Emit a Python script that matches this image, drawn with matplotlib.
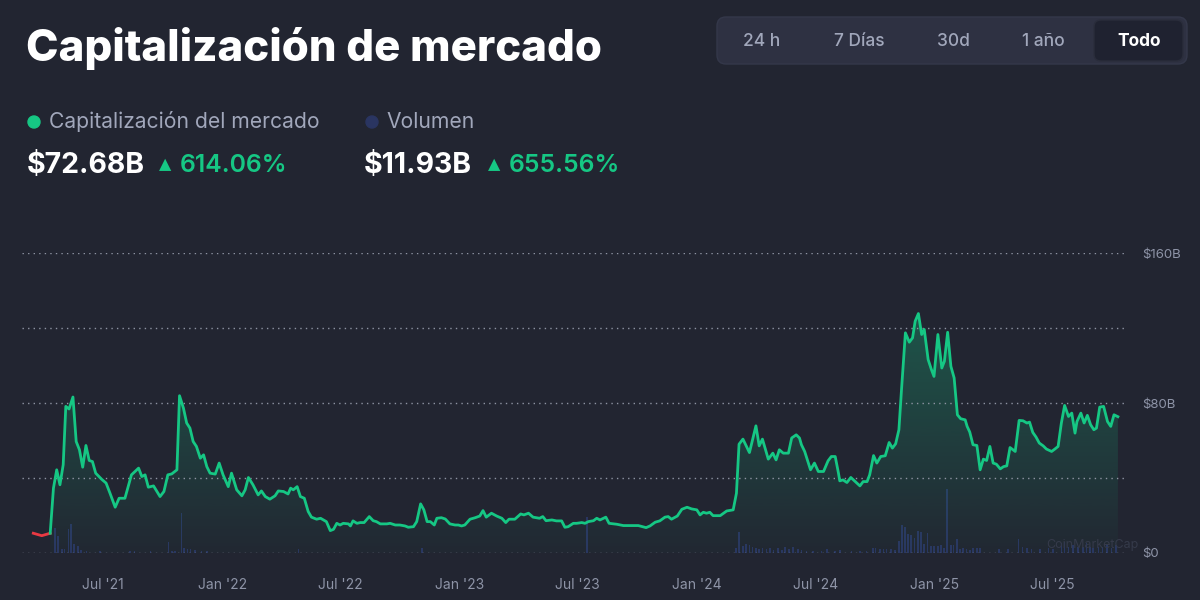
import matplotlib
matplotlib.use('Agg')

import matplotlib.dates as mdates
import matplotlib.pyplot as plt
import matplotlib.transforms as mtransforms
import numpy as np
import pandas as pd

from matplotlib.colors import to_rgb
from matplotlib.patches import Circle, FancyBboxPatch

BG = '#222531'
GREEN = '#16c784'
RED = '#ea3943'
GREY = '#a1a7bb'
NAVY = '#2a3561'

START = pd.Timestamp('2021-03-16')

# market cap, days since START / billions USD
MCAP_DAY = [
  0, 13, 26, 31, 36, 41, 46, 50, 55, 61,
  66, 71, 76, 81, 86, 91, 96, 105, 112, 118,
  126, 132, 141, 151, 162, 167, 172, 177, 185, 195,
  201, 207, 213, 221, 225, 231, 236, 241, 246, 251,
  257, 262, 267, 272, 280, 286, 292, 300, 305, 313,
  321, 326, 331, 338, 346, 351, 357, 364, 372, 377,
  385, 392, 396, 400, 406, 411, 417, 423, 428, 436,
  442, 451, 457, 462, 467, 472, 477, 485, 488, 492,
  498, 503, 509, 517, 523, 528, 534, 544, 549, 557,
  564, 572, 577, 585, 590, 596, 601, 606, 611, 617,
  621, 628, 634, 641, 649, 654, 659, 664, 672, 680,
  687, 692, 697, 705, 713, 721, 727, 732, 741, 750,
  755, 762, 769, 779, 784, 789, 798, 805, 813, 818,
  823, 831, 836, 844, 849, 854, 862, 867, 872, 881,
  886, 898, 908, 918, 931, 943, 949, 957, 964, 972,
  977, 982, 991, 998, 1006, 1013, 1021, 1026, 1031, 1036,
  1041, 1046, 1057, 1067, 1077, 1082, 1086, 1092, 1102, 1112,
  1117, 1122, 1131, 1138, 1143, 1148, 1154, 1162, 1167, 1174,
  1179, 1182, 1187, 1192, 1196, 1202, 1208, 1216, 1223, 1228,
  1234, 1239, 1241, 1246, 1252, 1258, 1263, 1272, 1277, 1283,
  1287, 1293, 1298, 1304, 1311, 1317, 1322, 1327, 1332, 1336,
  1342, 1348, 1353, 1357, 1362, 1367, 1371, 1377, 1382, 1386,
  1392, 1398, 1402, 1407, 1412, 1417, 1422, 1427, 1434, 1437,
  1441, 1446, 1452, 1457, 1462, 1467, 1472, 1477, 1482, 1488,
  1493, 1498, 1503, 1511, 1517, 1523, 1529, 1533, 1538, 1543,
  1548, 1554, 1559, 1567, 1572, 1577, 1582, 1587, 1593, 1598,
  1603, 1606, 1612, 1617, 1622, 1627, 1632, 1636, 1641, 1647,
  1653, 1658, 1663, 1669,
]
MCAP_B = [
  10.4, 9.1, 10.4, 34.5, 44.3, 36.3, 47.0, 78.2, 76.8, 83.2,
  59.4, 55.0, 45.7, 57.3, 49.3, 48.7, 42.5, 39.3, 37.2, 31.8,
  24.3, 29.1, 29.1, 41.6, 45.2, 40.7, 41.6, 35.0, 35.7, 30.0,
  32.7, 41.6, 42.1, 44.3, 83.9, 77.3, 69.3, 66.6, 59.4, 56.8,
  50.5, 52.3, 46.0, 42.5, 42.0, 47.9, 41.6, 35.3, 42.5, 33.6,
  30.4, 33.6, 40.2, 36.3, 30.9, 33.0, 30.0, 28.6, 30.4, 33.0,
  32.7, 31.4, 34.5, 33.6, 35.3, 30.0, 29.1, 22.0, 19.0, 17.9,
  18.4, 16.6, 11.8, 12.5, 15.7, 14.8, 15.7, 15.4, 14.3, 17.0,
  15.7, 16.1, 16.1, 19.3, 17.1, 16.6, 15.4, 15.4, 15.7, 14.8,
  14.8, 14.3, 13.6, 13.9, 16.6, 26.1, 22.9, 16.6, 16.6, 14.8,
  18.4, 18.7, 18.0, 15.4, 14.8, 14.8, 14.3, 14.8, 17.9, 18.7,
  19.6, 22.5, 19.0, 21.1, 19.6, 18.4, 16.1, 17.9, 17.9, 20.7,
  20.2, 21.1, 19.0, 18.4, 19.3, 17.1, 17.5, 17.0, 17.0, 13.6,
  13.9, 15.7, 15.7, 16.1, 15.7, 16.6, 17.1, 18.4, 17.5, 19.0,
  15.7, 15.2, 14.5, 14.5, 14.5, 13.4, 14.3, 16.3, 17.0, 19.0,
  19.3, 17.9, 19.6, 23.2, 24.3, 23.4, 22.9, 20.2, 21.6, 21.1,
  21.6, 19.8, 19.8, 22.3, 22.9, 31.8, 58.0, 60.7, 53.5, 67.8,
  57.1, 60.7, 50.0, 53.2, 49.6, 55.0, 53.2, 53.2, 61.3, 63.0,
  61.3, 57.7, 54.1, 48.7, 44.3, 47.9, 43.4, 43.4, 49.1, 51.4,
  51.4, 42.5, 38.4, 38.9, 37.5, 40.2, 38.6, 35.7, 38.0, 38.0,
  41.6, 51.9, 47.9, 51.4, 51.8, 58.9, 55.9, 58.2, 65.7, 87.1,
  117.5, 112.5, 114.8, 123.7, 127.8, 116.6, 119.3, 103.2, 97.9, 94.2,
  116.6, 98.7, 102.3, 117.8, 99.6, 93.4, 73.7, 71.6, 71.0, 67.5,
  64.5, 57.7, 57.3, 44.3, 50.0, 49.3, 56.8, 47.9, 47.3, 44.8,
  46.0, 46.4, 56.2, 54.1, 70.7, 70.5, 69.3, 69.8, 64.3, 61.8,
  58.6, 57.1, 55.4, 54.1, 55.4, 56.8, 69.3, 78.7, 72.8, 74.6,
  63.9, 70.1, 74.6, 69.3, 73.4, 68.4, 65.7, 66.6, 77.8, 78.2,
  70.1, 67.5, 73.7, 72.68,
]

# volume, days since START / billions USD
VOL_DAY = [
  33, 38, 44, 48, 54, 58, 63, 69, 73, 82,
  103, 149, 156, 180, 208, 213, 218, 228, 232, 237,
  242, 249, 259, 267, 408, 598, 852, 1081, 1086, 1092,
  1097, 1102, 1107, 1112, 1117, 1122, 1128, 1134, 1139, 1146,
  1152, 1157, 1163, 1169, 1177, 1182, 1190, 1200, 1213, 1221,
  1234, 1241, 1259, 1272, 1282, 1292, 1296, 1303, 1308, 1313,
  1320, 1326, 1332, 1337, 1341, 1346, 1351, 1356, 1361, 1366,
  1371, 1376, 1381, 1386, 1392, 1397, 1401, 1406, 1412, 1416,
  1421, 1426, 1431, 1436, 1441, 1446, 1452, 1457, 1486, 1500,
  1516, 1522, 1529, 1536, 1549, 1562, 1569, 1582, 1587, 1593,
  1600, 1608, 1615, 1621, 1626, 1631, 1639, 1645, 1652, 1659,
  1666,
]
VOL_B = [
  36.5, 25.5, 5.5, 5.5, 35.5, 43.0, 12.5, 10.5, 4.0, 2.5,
  2.0, 2.0, 3.0, 2.5, 16.0, 3.0, 2.0, 59.0, 6.5, 5.0,
  5.0, 4.0, 2.5, 2.5, 5.5, 6.5, 53.0, 6.5, 31.0, 10.0,
  12.5, 11.5, 8.5, 7.5, 6.0, 7.5, 5.0, 6.5, 4.0, 6.5,
  4.0, 9.0, 6.0, 9.0, 6.0, 4.0, 2.5, 2.5, 2.5, 5.0,
  2.5, 4.0, 2.5, 2.5, 2.5, 7.5, 7.5, 5.0, 5.0, 6.0,
  5.0, 4.0, 17.5, 41.0, 38.5, 27.5, 26.5, 22.5, 32.5, 31.5,
  12.5, 30.0, 10.0, 10.0, 10.0, 11.0, 7.5, 95.0, 11.0, 11.0,
  21.0, 5.0, 7.5, 5.0, 4.0, 6.5, 7.5, 6.5, 5.0, 5.0,
  20.0, 9.0, 6.5, 5.0, 5.0, 7.5, 5.0, 14.0, 16.5, 9.0,
  11.5, 9.0, 9.0, 14.0, 9.0, 6.5, 9.0, 9.0, 11.5, 7.5,
  11.93,
]

Y_TICKS = [0, 40, 80, 120, 160]
Y_LABELS = ['$0', '', '$80B', '', '$160B']
RANGES = ['24 h', '7 Días', '30d', '1 año', 'Todo']

FONT = ['Inter', 'DejaVu Sans']
W, H = 1200, 600


def ftext(fig, x, y, s, **kw):
  # x, y in pixels from the top-left corner
  kw.setdefault('family', FONT)
  return fig.text(x / W, 1 - y / H, s, **kw)


def draw_header(fig):
  px = mtransforms.IdentityTransform()
  ftext(fig, 26, 48, 'Capitalización de mercado', color='white', fontsize=31.5,
        fontweight='heavy', va='center')

  fig.add_artist(FancyBboxPatch((717, H - 64), 470, 47, transform=px,
                                boxstyle='round,pad=0,rounding_size=9',
                                facecolor='#2e3142', edgecolor='#34384a', lw=1))
  fig.add_artist(FancyBboxPatch((1094, H - 61), 89, 41, transform=px,
                                boxstyle='round,pad=0,rounding_size=7',
                                facecolor='#1f2230', edgecolor='#2a2d3b', lw=1))
  for label, xc in zip(RANGES, [762, 859, 953, 1043, 1139]):
    sel = label == 'Todo'
    ftext(fig, xc, 41, label, color='white' if sel else GREY, fontsize=12.5,
          fontweight='bold' if sel else 'medium', ha='center', va='center')

  fig.add_artist(Circle((34, H - 122), 6, transform=px, color=GREEN))
  fig.add_artist(Circle((372, H - 122), 6, transform=px, color=NAVY))
  ftext(fig, 49, 122, 'Capitalización del mercado', color=GREY, fontsize=15.2, va='center')
  ftext(fig, 386, 122, 'Volumen', color=GREY, fontsize=15.2, va='center')

  for x0, xt, value, change in ((27, 165, '$72.68B', '614.06%'),
                                (364, 494, '$11.93B', '655.56%')):
    ftext(fig, x0, 166, value, color='white', fontsize=20.5, fontweight='bold', va='center')
    ftext(fig, xt, 165, '▲', color=GREEN, fontsize=11.5, family='DejaVu Sans',
          ha='center', va='center')
    ftext(fig, xt + 15, 166, change, color=GREEN, fontsize=17.8, fontweight='semibold',
          va='center')


def draw_chart(fig):
  ax = fig.add_axes([22 / W, (H - 552.7) / H, 1105 / W, 299.4 / H])
  axv = ax.twinx()
  ax.set_zorder(axv.get_zorder() + 1)
  ax.patch.set_visible(False)
  axv.patch.set_visible(False)

  xs = mdates.date2num(START + pd.to_timedelta(MCAP_DAY, unit='D'))
  vals = np.array(MCAP_B)
  vx = mdates.date2num(START + pd.to_timedelta(VOL_DAY, unit='D'))

  axv.bar(vx, VOL_B, width=2.4, color=NAVY, zorder=1)
  axv.set_ylim(0, 449)
  axv.axis('off')

  # gradient fill under the market cap line
  fill = ax.fill_between(xs[2:], vals[2:], 0, facecolor='none', edgecolor='none')
  grad = np.zeros((256, 1, 4))
  grad[..., :3] = to_rgb(GREEN)
  grad[:, 0, 3] = np.linspace(0.30, 0.02, 256)
  img = ax.imshow(grad, aspect='auto', origin='upper', zorder=1,
                  extent=[xs[2], xs[-1], 0, vals.max()])
  img.set_clip_path(fill.get_paths()[0], transform=ax.transData)

  ax.plot(xs[:3], vals[:3], color=RED, lw=2.0, solid_joinstyle='round', zorder=3)
  ax.plot(xs[2:], vals[2:], color=GREEN, lw=2.0, solid_joinstyle='round', zorder=3)

  x0 = mdates.date2num(START - pd.Timedelta(days=17.4))
  x1 = mdates.date2num(START + pd.Timedelta(days=1683))
  ax.set_xlim(x0, x1)
  axv.set_xlim(x0, x1)
  ax.set_ylim(0, 160)

  ax.xaxis.set_major_locator(mdates.MonthLocator(bymonth=[1, 7]))
  ax.xaxis.set_major_formatter(mdates.DateFormatter("%b '%y"))
  ax.yaxis.tick_right()
  ax.set_yticks(Y_TICKS)
  ax.set_yticklabels(Y_LABELS)
  ax.tick_params(axis='x', length=0, pad=18, labelsize=10, labelcolor='#8e94a7')
  ax.tick_params(axis='y', length=0, pad=11, labelsize=9.5, labelcolor='#8e94a7')
  for lbl in ax.get_xticklabels() + ax.get_yticklabels():
    lbl.set_family(FONT)

  ax.grid(axis='y', color='#8e94a3', linestyle=(0, (1, 3)), lw=1)
  ax.grid(axis='x', visible=False)
  for spine in ax.spines.values():
    spine.set_visible(False)

  ftext(fig, 1092, 545, 'CoinMarketCap', color='#353a4a', fontsize=9, ha='center',
        va='center')


def main():
  fig = plt.figure(figsize=(12, 6), dpi=100, facecolor=BG)
  draw_header(fig)
  draw_chart(fig)
  fig.savefig('out.png', dpi=100, facecolor=BG)
  plt.close(fig)


if __name__ == '__main__':
  main()
